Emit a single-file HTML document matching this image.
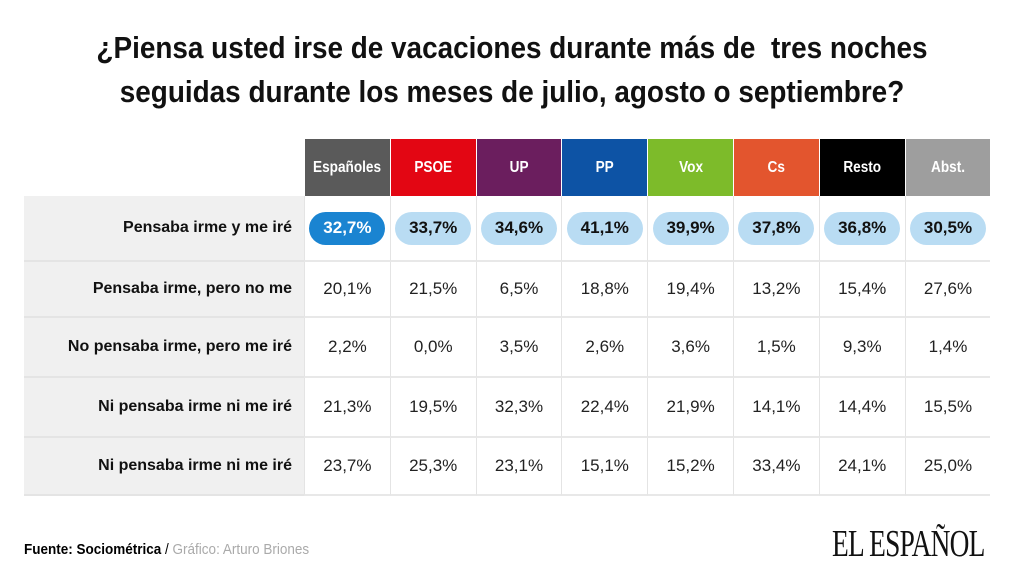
<!DOCTYPE html>
<html><head><meta charset="utf-8">
<style>
body{margin:0;width:1024px;height:576px;background:#fff;position:relative;overflow:hidden;font-family:"Liberation Sans",sans-serif}
.t{position:absolute;left:0;width:1024px;text-align:center;font-weight:bold;font-size:31px;color:#111;line-height:44px;transform:scaleX(0.9);transform-origin:center}
.abs{position:absolute;box-sizing:border-box}
.hd{color:#fff;font-weight:bold;font-size:16px;display:flex;align-items:center;justify-content:center;white-space:nowrap}
.hd span{display:inline-block;transform:scaleX(0.85)}
.lab{background:#f0f0f0;font-weight:bold;font-size:16px;color:#111;display:flex;align-items:center;justify-content:flex-end;padding-right:12px;border-bottom:2px solid #e4e4e4;white-space:nowrap}
.cell{border-left:1px solid #e4e4e4;border-bottom:2px solid #e8e8e8;display:flex;align-items:center;justify-content:center;font-size:17px;color:#222}
.pill{background:#b9dcf3;border-radius:17px;width:76px;height:33px;display:flex;align-items:center;justify-content:center;font-weight:bold;font-size:17px;color:#111}
</style></head><body>
<div class="t" style="top:26px">¿Piensa usted irse de vacaciones durante más de&nbsp; tres noches<br>seguidas durante los meses de julio, agosto o septiembre?</div>
<div id="tbl"></div>
<div class="abs" style="left:24px;top:541px;font-size:15px;white-space:nowrap;transform:scaleX(0.9);transform-origin:left"><b>Fuente: Sociométrica</b> / <span style="color:#aaa">Gráfico: Arturo Briones</span></div>
<div class="abs" style="left:832px;top:522px;font-family:'Liberation Serif',serif;font-size:38px;letter-spacing:-1px;white-space:nowrap;transform:scaleX(0.72);transform-origin:left;color:#111">EL ESPAÑOL</div>
<script>
const parties=["Españoles","PSOE","UP","PP","Vox","Cs","Resto","Abst."];
const colors=["#5a5a5a","#e30613","#6b1e5e","#0d53a5","#7dbb2a","#e3552e","#000000","#9e9e9e"];
const rowLabels=["Pensaba irme y me iré","Pensaba irme, pero no me","No pensaba irme, pero me iré","Ni pensaba irme ni me iré","Ni pensaba irme ni me iré"];
const row1=["32,7%","33,7%","34,6%","41,1%","39,9%","37,8%","36,8%","30,5%"];
const row2=["20,1%","21,5%","6,5%","18,8%","19,4%","13,2%","15,4%","27,6%"];
const row3=["2,2%","0,0%","3,5%","2,6%","3,6%","1,5%","9,3%","1,4%"];
const row4=["21,3%","19,5%","32,3%","22,4%","21,9%","14,1%","14,4%","15,5%"];
const row5=["23,7%","25,3%","23,1%","15,1%","15,2%","33,4%","24,1%","25,0%"];
const rows=[row1,row2,row3,row4,row5];
const rowTops=[196,262,318,378,438],rowBots=[262,318,378,438,496];
const tbl=document.getElementById('tbl');
const x0=304,cw=85.8;
function mk(cls,l,t,w,h){const d=document.createElement('div');d.className='abs '+cls;d.style.left=l+'px';d.style.top=t+'px';d.style.width=w+'px';d.style.height=h+'px';tbl.appendChild(d);return d;}
parties.forEach((p,i)=>{const d=mk('hd',x0+i*cw+1,139,cw-1,57);d.style.background=colors[i];
const s=document.createElement('span');s.textContent=p;d.appendChild(s);

});
rows.forEach((r,ri)=>{
 const h=rowBots[ri]-rowTops[ri];
 const l=mk('lab',24,rowTops[ri],280,h);l.textContent=rowLabels[ri];
 
 
 r.forEach((v,ci)=>{const c=mk('cell',x0+ci*cw,rowTops[ri],cw,h);
  
  
  if(ri===0){const p=document.createElement('div');p.className='pill';p.textContent=v;
   if(ci===0){p.style.background='#1a84d1';p.style.color='#fff';}
   
   
   c.appendChild(p);} else c.textContent=v;
 });
});
</script>
</body></html>
